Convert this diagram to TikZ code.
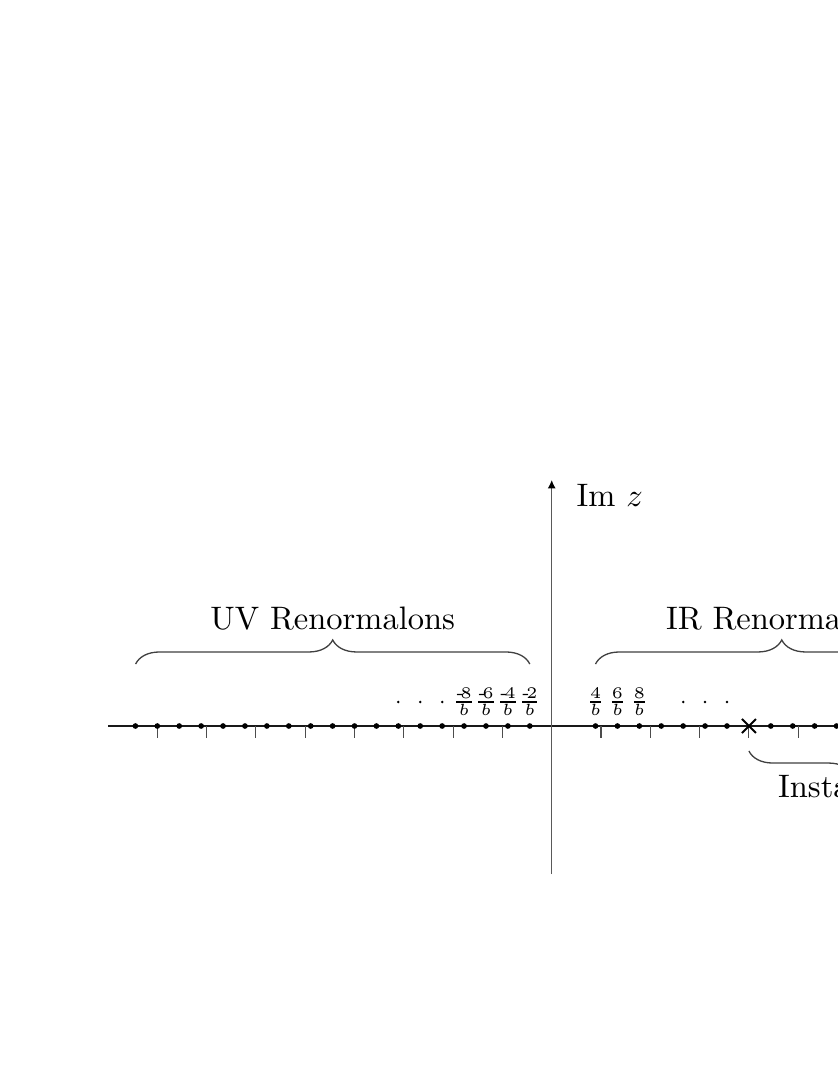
\documentclass[tikz,border=0pt]{standalone}
\usepackage{amsmath}
\usetikzlibrary{decorations.pathreplacing,arrows.meta,shapes.misc}
\begin{document}
\begin{tikzpicture}[x=0.30769pt,y=-0.30769pt]
\tikzset{
  pole/.style={circle,fill=black,inner sep=0pt,minimum size=1.75pt},
  smalldot/.style={circle,fill=black,inner sep=0pt,minimum size=0.85pt},
  tickmark/.style={draw=black!70,line width=0.35pt},
  realaxis/.style={draw=black!90,line width=0.65pt},
  imaxis/.style={draw=black!65,line width=0.4pt},
  frlabel/.style={font=\scriptsize,inner sep=0pt},
  bigtext/.style={inner sep=0pt,anchor=base},
  bracepath/.style={draw=black!75,line width=0.4pt,decorate,decoration={brace,amplitude=7.4pt}},
  xmark/.style={cross out,draw=black,line width=0.6pt,minimum size=3.7pt,inner sep=0pt},
}
\newcommand{\hy}{\text{-}\mkern-2.5mu}
\fill[white] (0,0) rectangle (838,1085);
\clip (0,0) rectangle (838,1085);
% axes
\coordinate (axL) at (108,726);
\coordinate (axR) at (850,726);
\draw[realaxis] (axL) -- (axR);
\coordinate (vb) at (551.7,874);
\coordinate (vt) at (551.7,480);
\draw[imaxis,-{Latex[length=2.6pt,width=2.5pt,color=black]}] (vb) -- (vt);
\node[bigtext,anchor=base west] (imz) at (576,506) {Im $z$};
% ticks
\foreach \n in {-8,-7,-6,-5,-4,-3,-2,-1,1,2,3,4,5}
  \draw[tickmark] ({551.7+\n*49.3},726) -- ++(0,12);
% poles
\foreach \k in {-19,-18,...,-1}
  \node[pole] (p\k) at ({551.7+\k*21.91},726) {};
\foreach \k in {2,3,...,8,10,11,12,13,14}
  \node[pole] (p\k) at ({551.7+\k*21.91},726) {};
\node[xmark] (inst) at ({551.7+9*21.91},726) {};
% fraction labels
\node[frlabel] (fm8) at ({551.7-4*21.91},702) {$\frac{\hy 8}{b}$};
\node[frlabel] (fm6) at ({551.7-3*21.91},702) {$\frac{\hy 6}{b}$};
\node[frlabel] (fm4) at ({551.7-2*21.91},702) {$\frac{\hy 4}{b}$};
\node[frlabel] (fm2) at ({551.7-1*21.91},702) {$\frac{\hy 2}{b}$};
\node[frlabel] (f4) at ({551.7+2*21.91},702) {$\frac{4}{b}$};
\node[frlabel] (f6) at ({551.7+3*21.91},702) {$\frac{6}{b}$};
\node[frlabel] (f8) at ({551.7+4*21.91},702) {$\frac{8}{b}$};
% ellipsis dots
\foreach \k in {-7,-6,-5,6,7,8}
  \node[smalldot] (e\k) at ({551.7+\k*21.91},702) {};
% braces
\coordinate (uvL) at (135.6,664);
\coordinate (uvR) at (529.8,664);
\draw[bracepath] (uvL) -- (uvR);
\node[bigtext] (uv) at (332.7,629) {UV Renormalons};
\coordinate (irL) at (595.5,664);
\coordinate (irR) at (968,664);
\draw[bracepath] (irL) -- (irR);
\node[bigtext] (ir) at (781.7,629) {IR Renormalons};
\coordinate (inL) at (748.9,751);
\coordinate (inR) at (956,751);
\draw[bracepath] (inR) -- (inL);
\node[bigtext] (instlabel) at (852.4,797) {Instantons};
\end{tikzpicture}
\end{document}
